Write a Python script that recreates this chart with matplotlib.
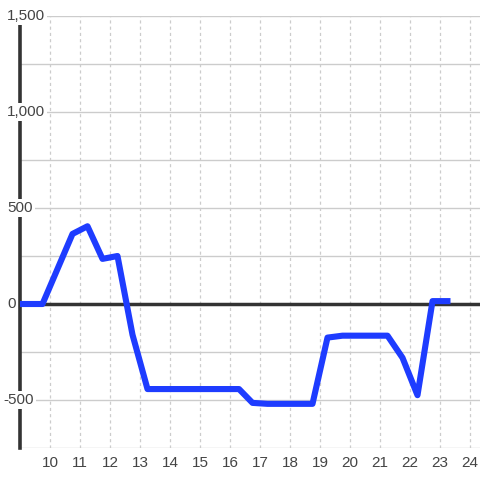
import matplotlib
matplotlib.use("Agg")
import matplotlib.pyplot as plt
import numpy as np

# data
hours = [9.0, 9.75, 10.75, 11.25, 11.75, 12.25, 12.75, 13.25, 16.3, 16.75, 17.25,
         18.75, 19.25, 19.75, 21.25, 21.75, 22.25, 22.75, 23.35]
values = [0, 0, 365, 405, 235, 250, -160, -443, -443, -515, -520,
          -520, -175, -165, -165, -280, -475, 15, 15]
x_ticks = list(range(10, 25))
y_label_values = [-500, 0, 500, 1000, 1500]
y_grid_values = [-750, -500, -250, 0, 250, 500, 750, 1000, 1250, 1500]

plt.rcParams['font.family'] = ['Liberation Sans', 'DejaVu Sans']

fig = plt.figure(figsize=(4.8, 4.8), dpi=100)
W, H = 480, 480
ax = fig.add_axes([20 / W, 1 - 448 / H, 460 / W, (448 - 16) / H])
ax.set_xlim(9.0, 9.0 + 460 / 30)
ax.set_ylim(-750, 1500)

grid_c = '#cccccc'
for v in y_grid_values:
    ax.axhline(v, color=grid_c, lw=1.0, zorder=1)
for t in x_ticks:
    ax.axvline(t, color=grid_c, lw=0.9, ls=(0, (2.5, 2.5)), zorder=1)

ax.axhline(0, color='#333333', lw=2.5, zorder=3)

ax.plot(hours, values, color='#1e3cff', lw=4.4, solid_joinstyle='round',
        solid_capstyle='butt', zorder=6)

for s in ['top', 'right', 'bottom']:
    ax.spines[s].set_visible(False)
ax.spines['left'].set_color('#333333')
ax.spines['left'].set_linewidth(2.6)
ax.spines['left'].set_zorder(2.5)

ax.set_xticks(x_ticks)
ax.set_xticklabels([str(t) for t in x_ticks], fontsize=11, color='#444444')
ax.tick_params(axis='x', length=0, pad=6)
ax.set_yticks([])

tr = ax.get_yaxis_transform()
for v in y_label_values:
    lab = f"{v:,}" if v >= 0 else f"-{abs(v):,}"
    xpos = (7 - 20) / 460 if v >= 0 else (3 - 20) / 460
    ax.text(xpos, v, lab, transform=tr, ha='left', va='center', fontsize=11,
            color='#444444', zorder=5, clip_on=False,
            bbox=dict(facecolor='white', edgecolor='none', pad=1.5))

fig.savefig('out.png', dpi=100, facecolor='white')
